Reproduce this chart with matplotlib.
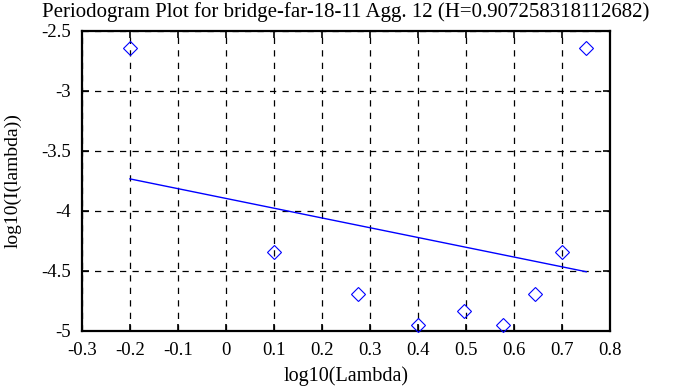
import matplotlib
matplotlib.use("Agg")
import matplotlib.pyplot as plt

plt.rcParams["font.family"] = ["Liberation Serif", "DejaVu Serif"]
plt.rcParams["axes.unicode_minus"] = False

# periodogram points (log10 lambda, log10 I)
log_lambda = [-0.2, 0.1, 0.275, 0.4, 0.495, 0.577, 0.643, 0.7, 0.75]
log_I = [-2.642, -4.342, -4.69, -4.95, -4.833, -4.955, -4.69, -4.342, -2.642]

# fitted line endpoints
fit_x = [-0.2, 0.75]
fit_y = [-3.733, -4.507]

xticks = [-0.3, -0.2, -0.1, 0, 0.1, 0.2, 0.3, 0.4, 0.5, 0.6, 0.7, 0.8]
yticks = [-5, -4.5, -4, -3.5, -3, -2.5]

fig = plt.figure(figsize=(6.88, 3.87), dpi=100)
ax = fig.add_axes([0.119, 0.145, 0.768, 0.775])

ax.plot(fit_x, fit_y, color="#0000ff", lw=1.0, zorder=3)
ax.plot(log_lambda, log_I, ls="none", marker="D", ms=7.5, mfc="none",
        mec="#0000ff", mew=0.8, zorder=4, clip_on=False)

ax.set_xlim(-0.3, 0.8)
ax.set_ylim(-5, -2.5)
ax.set_xticks(xticks)
ax.set_xticklabels([f"{v:g}" for v in xticks])
ax.set_yticks(yticks)
ax.set_yticklabels([f"{v:g}" for v in yticks])
ax.grid(True, color="black", ls=(0, (5, 5)), lw=0.9)
ax.tick_params(direction="in", top=True, right=True, length=5, width=1.2,
               labelsize=13.5)
ax.tick_params(axis="x", pad=8)
ax.tick_params(axis="y", pad=8)
for s in ax.spines.values():
    s.set_linewidth(1.6)

ax.set_title("Periodogram Plot for bridge-far-18-11 Agg. 12 (H=0.907258318112682)",
             fontsize=15, pad=10)
ax.set_xlabel("log10(Lambda)", fontsize=14.5, labelpad=5)
ax.set_ylabel("log10(I(lambda))", fontsize=14, labelpad=14)

fig.savefig("out.png", dpi=100)
